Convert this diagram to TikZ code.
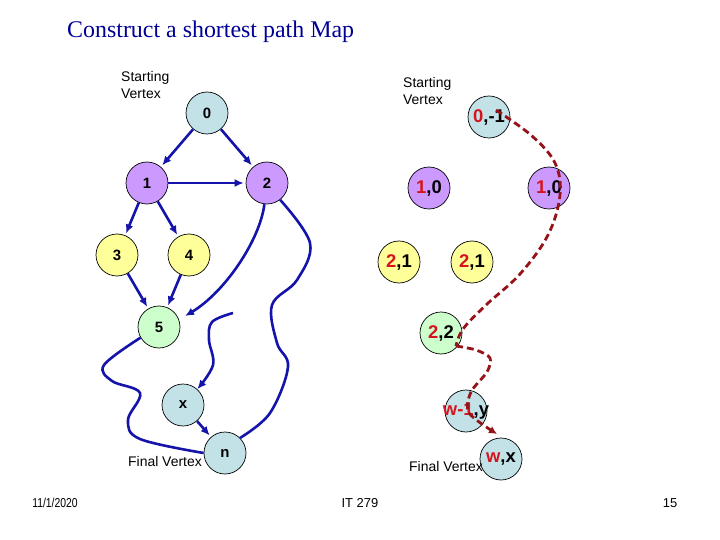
\documentclass[tikz,border=0pt]{standalone}
\usepackage{fontspec}
\setmainfont{Liberation Sans}
\newfontfamily\titlefont{Liberation Serif}
\usetikzlibrary{arrows.meta}
\definecolor{cyanf}{RGB}{194,226,232}
\definecolor{purf}{RGB}{204,153,255}
\definecolor{yelf}{RGB}{255,255,153}
\definecolor{grnf}{RGB}{204,255,204}
\definecolor{edgeblue}{RGB}{20,20,170}
\definecolor{pathred}{RGB}{150,20,25}
\definecolor{numred}{RGB}{215,20,30}
\definecolor{titleblue}{RGB}{0,0,150}
\newcommand\zw[1]{\makebox[0pt]{#1}}
\newcommand\rd[1]{\textcolor{numred}{#1}}
\begin{document}
\begin{tikzpicture}[x=1bp,y=-1bp,
  vtx/.style={circle, draw=black, line width=0.7bp, minimum size=42bp, inner sep=0pt,
    font=\fontsize{15}{15}\selectfont\bfseries},
  vtxr/.style={vtx, font=\fontsize{18.5}{18}\selectfont\bfseries},
  cy/.style={fill=cyanf}, pu/.style={fill=purf}, ye/.style={fill=yelf}, gr/.style={fill=grnf},
  edge/.style={draw=edgeblue, line width=2.6bp, -{Latex[length=9bp,width=8bp]}},
  plainedge/.style={draw=edgeblue, line width=2.6bp},
  redpath/.style={draw=pathred, line width=2.8bp, dash pattern=on 7bp off 4bp},
  lbl/.style={font=\fontsize{14}{17}\selectfont, align=left, inner sep=0pt},
  foot/.style={font=\fontsize{13}{13}\selectfont, inner sep=0pt}]
\useasboundingbox (0,0) rectangle (720,540);
% title
\node[anchor=west, inner sep=0pt, text=titleblue, font=\titlefont\fontsize{24}{24}\selectfont] (title) at (67,32) {Construct a shortest path Map};
% left graph
\node[vtx,cy] (n0) at (207,113) {\zw{0}};
\node[vtx,pu] (n1) at (147,183) {\zw{1}};
\node[vtx,pu] (n2) at (267,183) {\zw{2}};
\node[vtx,ye] (n3) at (117,255) {\zw{3}};
\node[vtx,ye] (n4) at (189,255) {\zw{4}};
\node[vtx,gr] (n5) at (159,327) {\zw{5}};
\node[vtx,cy] (nx) at (183,405) {\zw{x}};
\node[vtx,cy] (nn) at (225,453) {\zw{n}};
\node[lbl, anchor=north west] (sv1) at (121,71) {Starting\\Vertex};
\node[lbl, anchor=east] (fv1) at (202,462) {Final Vertex};
\draw[edge, shorten >=2bp] (n0) -- (n1);
\draw[edge, shorten >=2bp] (n0) -- (n2);
\draw[edge, shorten >=2bp] (n1) -- (n2);
\draw[edge, shorten >=2bp] (n1) -- (n3);
\draw[edge, shorten >=2bp] (n1) -- (n4);
\draw[edge, shorten >=2bp] (n3) -- (n5);
\draw[edge, shorten >=2bp] (n4) -- (n5);
\draw[edge, shorten >=2bp] (nx) -- (nn);
\draw[edge, shorten >=7bp] (n2.263) .. controls (260,240) and (225,292) .. (n5.20);
\draw[plainedge] plot[smooth, tension=0.6] coordinates {(n2.-52) (310,243) (297,280) (272,305) (277,343) (288,367) (270,413) (nn.45)};
\draw[plainedge] plot[smooth, tension=0.6] coordinates {(n5.210) (104,365) (112,381) (140,393) (128,420) (140,439) (nn.180)};
\coordinate (hook) at (233,313);
\draw[edge] plot[smooth, tension=0.6] coordinates {(hook) (212,322) (209,340) (213,365) (nx.48)};
% right graph
\node[vtxr,cy] (r0) at (489,117) {\zw{\rd{0},-1}};
\node[vtxr,pu] (r1a) at (429,188) {\zw{\rd{1},0}};
\node[vtxr,pu] (r1b) at (549,188) {\zw{\rd{1},0}};
\node[vtxr,ye] (r2a) at (399,262) {\zw{\rd{2},1}};
\node[vtxr,ye] (r2b) at (472,262) {\zw{\rd{2},1}};
\node[vtxr,gr] (r22) at (441,333) {\zw{\rd{2},2}};
\node[vtxr,cy] (rw1) at (466,411) {\zw{\rd{w-1},y}};
\node[vtxr,cy] (rw) at (501,459) {\zw{\rd{w},x}};
\node[lbl, anchor=north west] (sv2) at (403,77) {Starting\\Vertex};
\node[lbl, anchor=west] (fv2) at (409,467) {Final Vertex};
\coordinate (ds) at (496,110);
\coordinate (dk) at (456,346);
\coordinate (de) at (497,434);
\draw[redpath] plot[smooth, tension=0.6] coordinates {(ds) (532,136) (555,163) (560,195) (548,235) (520,274) (486,305) (463,329) (dk)};
\draw[redpath, -{Latex[length=8bp,width=8bp]}] plot[smooth, tension=0.5] coordinates {(dk) (476,350) (490,358) (487,372) (471,392) (469,413) (de)};
% footer
\node[foot] (date) at (55,503) {\scalebox{0.8}[1]{11/1/2020}};
\node[foot] (course) at (360,503) {IT 279};
\node[foot] (page) at (670,503) {15};
\end{tikzpicture}
\end{document}
